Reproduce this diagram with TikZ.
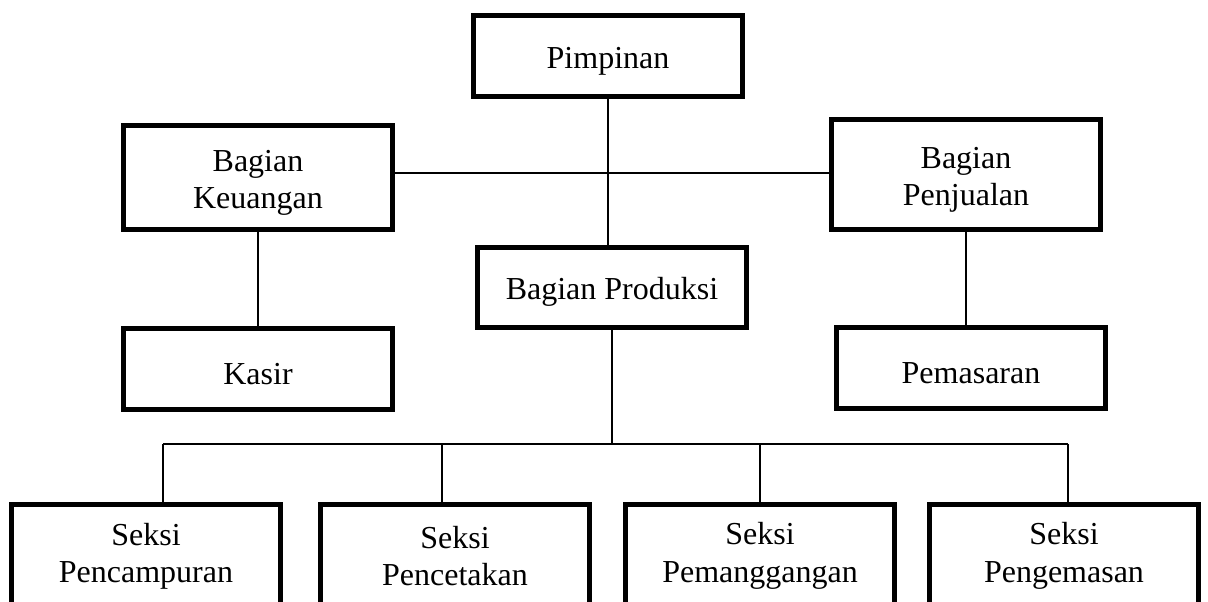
\documentclass[tikz,border=0pt]{standalone}
\usepackage{fontspec}
\setmainfont{Liberation Serif}

\tikzset{every picture/.style={line width=0.75pt}}
\tikzset{
  kotak/.style={draw, line width=3.75pt, minimum width=201.75pt, align=center,
    inner sep=2pt, font=\fontsize{24}{28}\selectfont},
  kotakatas/.style={kotak, text height=23pt},
  kotakdua/.style={kotak, text height=51.5pt},
  garis/.style={line width=1.2pt}
}

\begin{document}
\begin{tikzpicture}[x=0.75pt,y=0.75pt,yscale=-1,xscale=1]
	\useasboundingbox (0,0) rectangle (1208,602);
	\clip (0,0) rectangle (1208,602);

	% Boxes
	\node [kotakatas, minimum height=60.75pt] (pimpinan) at (608,56.5) {Pimpinan};
	\node [kotakdua, minimum height=78pt] (keuangan) at (258,177.5) {Bagian\\Keuangan};
	\node [kotakdua, minimum height=82.5pt] (penjualan) at (966,174.5) {Bagian\\Penjualan};
	\node [kotakatas, minimum height=60pt] (produksi) at (612,287.5) {Bagian Produksi};
	\node [kotakatas, minimum height=60.75pt] (kasir) at (258,369) {Kasir};
	\node [kotakatas, minimum height=60.75pt] (pemasaran) at (971,368) {Pemasaran};
	\node [kotak, minimum height=77pt] (pencampuran) at (146,556) {Seksi\\Pencampuran};
	\node [kotak, minimum height=77pt] (pencetakan) at (455,556) {Seksi\\Pencetakan};
	\node [kotak, minimum height=77pt] (pemanggangan) at (760,556) {Seksi\\Pemanggangan};
	\node [kotak, minimum height=77pt] (pengemasan) at (1064,556) {Seksi\\Pengemasan};

	% bus points
	\coordinate (b1) at (163,444);
	\coordinate (b2) at (442,444);
	\coordinate (b3) at (760,444);
	\coordinate (b4) at (1068,444);

	% Lines
	\draw [garis] (pimpinan.south) -- (pimpinan.south |- produksi.north);
	\draw [garis] (keuangan.east |- 0,173) -- (penjualan.west |- 0,173);
	\draw [garis] (keuangan.south) -- (kasir.north);
	\draw [garis] (penjualan.south) -- (penjualan.south |- pemasaran.north);
	\draw [garis] (produksi.south) -- (produksi.south |- b1);
	\draw [garis] (b1) -- (b4);
	\draw [garis] (b1) -- (b1 |- pencampuran.north);
	\draw [garis] (b2) -- (b2 |- pencetakan.north);
	\draw [garis] (b3) -- (b3 |- pemanggangan.north);
	\draw [garis] (b4) -- (b4 |- pengemasan.north);

\end{tikzpicture}
\end{document}
